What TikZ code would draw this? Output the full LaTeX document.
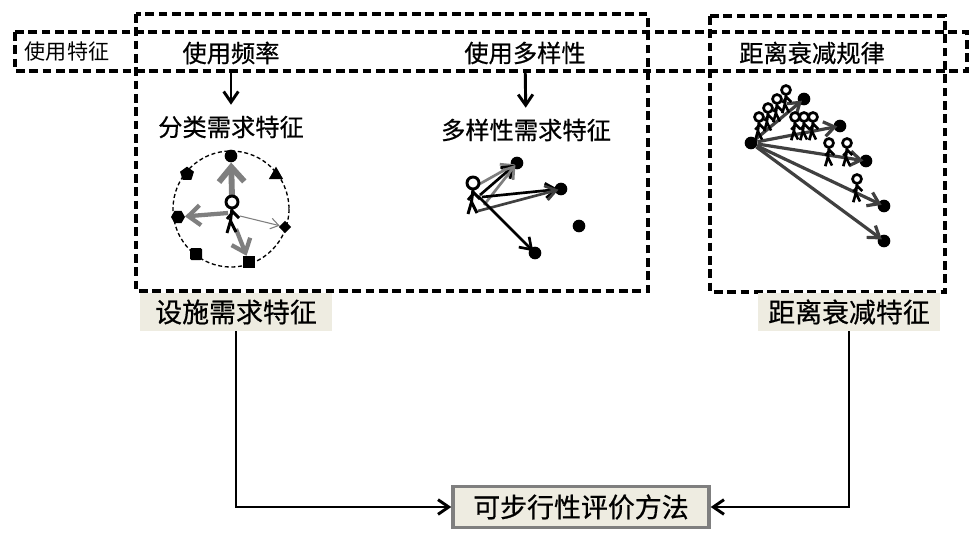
\documentclass[tikz,border=0pt]{standalone}
\usepackage{fontspec}
\setmainfont{Noto Sans CJK SC}[FakeBold=0.6]
\newfontfamily\lightcjk{Noto Sans CJK SC}
\usetikzlibrary{arrows.meta,shapes.geometric}
\definecolor{tagfill}{HTML}{EEECE1}
\definecolor{midgray}{HTML}{7F7F7F}
\definecolor{darkgray}{HTML}{404040}
\tikzset{
    dashbox/.style={draw=black, line width=2.3pt, dash pattern=on 6.5pt off 3.5pt},
    headtext/.style={font=\fontsize{18.2}{20}\selectfont, inner sep=0pt, minimum height=27pt},
    subtext/.style={font=\fontsize{18.2}{20}\selectfont, inner sep=0pt, minimum height=33pt},
    tagtext/.style={font=\fontsize{20.2}{22}\selectfont, fill=tagfill, inner sep=0pt, minimum height=28.5pt},
    flow/.style={draw=black, line width=2.2pt, -{Straight Barb[length=8pt,width=11pt]}},
    ray/.style={line width=#1, shorten >=-3pt, -{Straight Barb[length=8pt,width=11pt]}},
    dot/.style={circle, fill=black, inner sep=0pt, minimum size=9.5pt},
    pics/walker/.style={code={
        \draw[line width=#1] (0,6) -- (-1.5,19) -- (-5,31);
        \draw[line width=#1] (-1.5,19) -- (4,30);
        \draw[line width=#1] (-5,17) -- (1,10) -- (7,16);
        \draw[line width=#1, fill=white] (0,0) circle (6);
    }}
}
\begin{document}
\begin{tikzpicture}[x=0.75pt, y=-0.75pt]
    \useasboundingbox (0,0) rectangle (975,539);
    % dashed frames
    \draw[dashbox] (15,32) rectangle (967,71);
    \draw[dashbox] (136,14) rectangle (648,291);
    \draw[dashbox] (710,16) rectangle (945,292);
    \node[font=\lightcjk\fontsize{15.8}{17}\selectfont, inner sep=0pt] (usage) at (67,52) {使用特征};
    \node[headtext] (freq) at (231,53) {使用频率};
    \node[headtext] (variety) at (525,53) {使用多样性};
    \node[headtext] (decay) at (812,53) {距离衰减规律};
    \node[subtext] (classneed) at (231,127) {分类需求特征};
    \node[subtext] (varneed) at (526,130) {多样性需求特征};
    \draw[flow] (freq) -- (classneed);
    \draw[flow] (variety) -- (varneed);
    % circle of facility types
    \draw[line width=1pt, dash pattern=on 3pt off 2pt] (231,209) circle (58);
    \coordinate (walk-a) at (232,202);
    \node[dot] (fac-1) at (231,156) {};
    \node[regular polygon, regular polygon sides=5, fill=black, inner sep=0pt, minimum size=11pt] (fac-2) at (187,174) {};
    \node[regular polygon, regular polygon sides=3, fill=black, inner sep=0pt, minimum size=12.5pt] (fac-3) at (276,175) {};
    \node[diamond, fill=black, inner sep=0pt, minimum size=9.5pt] (fac-4) at (285,227) {};
    \node[rectangle, fill=black, inner sep=0pt, minimum size=9pt] (fac-5) at (249,262) {};
    \node[rectangle, rounded corners=1pt, fill=black, inner sep=0pt, minimum size=9pt] (fac-6) at (196,254) {};
    \node[regular polygon, regular polygon sides=6, fill=black, inner sep=0pt, minimum size=10.5pt] (fac-7) at (178,217) {};
    \draw[midgray, line width=4.4pt, -{Straight Barb[length=11pt,width=19pt]}] (232,197) -- (fac-1);
    \draw[midgray, line width=3.2pt, -{Straight Barb[length=9pt,width=15pt]}] (228,213) -- (fac-7);
    \draw[midgray, line width=3.2pt, -{Straight Barb[length=9pt,width=15pt]}] (236,229) -- (fac-5);
    \draw[midgray, line width=0.8pt, -{Straight Barb[length=6pt,width=8pt]}] (240,216) -- (fac-4);
    \pic at (walk-a) {walker=2.2pt};
    % trips of one resident
    \node[dot] (site-1) at (517,163) {};
    \node[dot] (site-2) at (561,189) {};
    \node[dot] (site-3) at (579,226) {};
    \node[dot] (site-4) at (535,253) {};
    \coordinate (walk-b) at (473,183);
    \draw[ray=2pt, midgray] (476,186) -- (site-1);
    \draw[ray=2pt, black] (480,195) -- (site-1);
    \draw[ray=2pt, midgray] (484,205) -- (site-1);
    \draw[ray=2pt, black] (482,197) -- (site-2);
    \draw[ray=2pt, darkgray] (478,211) -- (site-2);
    \draw[ray=2pt, black] (478,196) -- (site-4);
    \pic at (walk-b) {walker=2.2pt};
    % distance decay
    \node[dot] (home) at (751,143) {};
    \node[dot] (far-1) at (804,99) {};
    \node[dot] (far-2) at (840,126) {};
    \node[dot] (far-3) at (866,161) {};
    \node[dot] (far-4) at (884,206) {};
    \node[dot] (far-5) at (884,241) {};
    \foreach \index in {1,...,5}
        \draw[ray=2.4pt, darkgray] (home) -- (far-\index);
    \foreach \px/\py in {759/117,768/108,777/99,786/90,795/117,804/117,813/117,829/143,847/143,857/179}
        \pic[scale=0.75] at (\px,\py) {walker=2pt};
    % tags and the result
    \node[tagtext, minimum width=144pt] (facility) at (236,312) {设施需求特征};
    \node[tagtext, minimum width=137pt] (falloff) at (849,312) {距离衰减特征};
    \node[font=\fontsize{20.2}{22}\selectfont, draw=midgray, line width=2.6pt, fill=tagfill, inner sep=0pt, minimum width=192pt, minimum height=31pt] (method) at (581,507) {可步行性评价方法};
    \draw[flow] (facility) |- (method);
    \draw[flow] (falloff) |- (method);
\end{tikzpicture}
\end{document}
